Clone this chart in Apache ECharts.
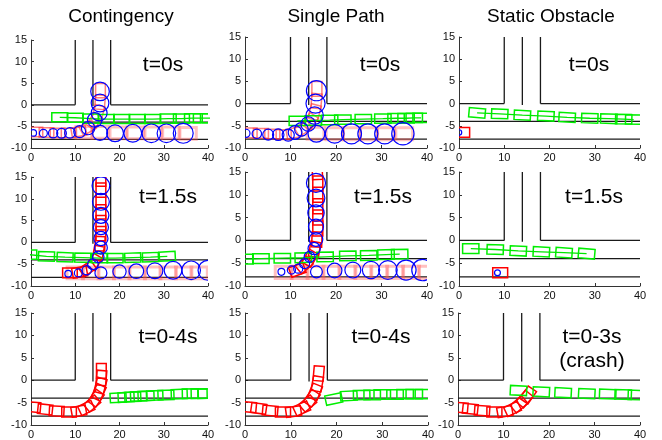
<!DOCTYPE html>
<html><head><meta charset="utf-8">
<script src="https://cdn.jsdelivr.net/npm/echarts@6/dist/echarts.min.js"></script>
<style>html,body{margin:0;padding:0;background:#fff}#c{width:662px;height:440px}</style>
</head><body><div id="c"></div>
<script>
// ---------------- DATA ----------------
const columnTitles = ['Contingency', 'Single Path', 'Static Obstacle'];
const timeLabels = [
  ['t=0s', 't=0s', 't=0s'],
  ['t=1.5s', 't=1.5s', 't=1.5s'],
  ['t=0-4s', 't=0-4s', 't=0-3s\n(crash)']
];
const xRange = [0, 40], xStep = 10;
const yRange = [-10, 15], yStep = 5;
// road edges: [x1, y1, x2, y2]
const roadSegments = [[0,0,10,0],[10,0,10,15],[18,0,40,0],[18,0,18,15],[14,-0.3,14,15],[0,-4,40,-4],[0,-8,40,-8]];

// poses: [x, y, headingDeg]; circles: [x, y, radius]
// Row 1 (t=0)
const contT0Red   = [[1,-6.3,0],[3.5,-6.4,0],[6,-6.5,0],[8.5,-6.5,0],[10.8,-6.2,10],[12.8,-5.3,30],[14.3,-3.8,55],[15.2,-1.8,75],[15.6,0.6,85],[15.7,3.3,90]];
const contT0Pink  = [[12,-6.4,0],[15.6,-6.4,0],[19.7,-6.5,0],[23.6,-6.5,0],[27.6,-6.5,0],[31.6,-6.5,0],[35.5,-6.6,0]];
const contT0Blue  = [[0.5,-6.5,0.75],[2.8,-6.6,0.9],[5,-6.6,1.05],[6.9,-6.6,1.1],[8.8,-6.5,1.2],[11,-6.2,1.35],[12.9,-5.4,1.5],[14.4,-3.5,1.65],[15.4,-1.9,1.8],[15.6,0.4,2],[15.6,3.1,2.1],[15.6,-6.5,1.7],[19,-6.6,1.9],[23,-6.6,2.0],[27.2,-6.6,2.1],[30.6,-6.6,2.1],[34.4,-6.6,2.25]];
const contT0Green = [[6.5,-2.9,0],[10,-3,0],[13.5,-3.2,0],[17,-3.3,0],[20.5,-3.3,0],[24,-3.3,0],[27.5,-3.3,0],[31,-3.2,0],[34,-3.2,0],[36.5,-3.1,0],[38.5,-3.1,0],[40.5,-3.1,0]];

const singT0Red   = [[1,-6.6,0],[3.5,-6.7,0],[6,-6.9,0],[8.5,-7,0],[10.8,-6.6,10],[12.8,-5.6,30],[14.3,-4.0,55],[15.3,-1.9,75],[15.7,0.6,85],[15.8,3.3,90]];
const singT0Pink  = [[15.5,-6.7,0],[19.7,-6.8,0],[23.5,-6.8,0],[27.2,-6.8,0],[31,-6.8,0],[35,-6.8,0]];
const singT0Blue  = [[0.2,-6.7,0.9],[2.6,-6.8,1.04],[5.1,-7,1.2],[7.3,-7,1.26],[9.5,-7.1,1.33],[11,-6.5,1.5],[12.4,-5.8,1.5],[13.9,-4.6,1.6],[15.3,-2.7,1.9],[15.5,0,2.1],[15.7,2.9,2.2],[15.7,-6.8,1.85],[19.7,-6.8,2.05],[23.4,-6.8,2.2],[27,-6.8,2.2],[30.7,-6.8,2.2],[34.7,-6.8,2.45]];
const singT0Green = [[11.5,-3.9,0],[15,-3.8,0],[18.6,-3.7,0],[21.5,-3.6,0],[26,-3.5,0],[30.3,-3.4,0],[33.2,-3.3,0],[35.4,-3.3,0],[37.2,-3.2,0],[38.7,-3.2,0]];

const statT0Red   = [[0.7,-6.5,0]];
const statT0Blue  = [[0,-6.5,0.6]];
const statT0Green = [[4,-2.1,-5],[9,-2.3,-2],[14,-2.6,-3],[19.2,-2.8,-3],[23.9,-3.1,-3],[28.9,-3.3,-2],[33.1,-3.4,-2],[36.4,-3.5,-1],[38.6,-3.6,-1]];

// Row 2 (t=1.5s)
const contT15Red   = [[8.8,-7,0],[11,-6.8,10],[12.8,-6,35],[14.3,-4.5,60],[15.2,-2.5,80],[15.6,-0.3,88],[15.8,2,90],[15.8,4.5,90],[15.8,7,90],[15.8,9.5,90],[15.8,12,90],[15.8,14.5,90]];
const contT15Pink  = [[10,-7,0],[13.5,-7,0],[17,-7,0],[20.5,-7,0],[24,-7,0],[27.5,-7,0],[31,-7,0],[34.5,-7,0],[38,-7,0]];
const contT15Blue  = [[8.4,-7.2,0.75],[10.7,-7,0.9],[12.6,-6.4,1.05],[14,-5,1.2],[15.2,-3.3,1.3],[15.8,-1.2,1.45],[15.8,0.9,1.6],[15.8,3.5,1.7],[15.8,6.2,1.8],[15.8,9.3,1.9],[15.8,13,2.0],[15.8,-7,1.35],[20,-6.7,1.5],[23.8,-6.6,1.65],[28,-6.5,1.8],[32.1,-6.4,2.0],[36.2,-6.4,2.1],[40,-6.4,2.25]];
const contT15Green = [[-0.5,-2.8,0],[3.5,-3.2,-2],[7.7,-3.4,-2],[11.7,-3.5,-1],[15.5,-3.6,0],[19,-3.6,0],[23,-3.5,2],[27,-3.4,2],[30.8,-3.2,3]];

const singT15Red   = [[11.5,-6.5,20],[13,-5.4,40],[14.3,-3.9,60],[15.3,-2,80],[15.8,0.2,88],[16,2.6,90],[16,5,90],[16,7.5,90],[16,10,90],[16,12.5,90],[15.9,15,92]];
const singT15Pink  = [[8.5,-7,0],[12,-7,0],[15.5,-7,0],[19,-7,0],[22.5,-7,0],[26,-7,0],[29.5,-7,0],[33,-7,0],[36.5,-7,0],[40,-7,0]];
const singT15Blue  = [[8,-6.9,0.75],[10.2,-6.5,0.9],[11.7,-6.2,1.0],[13.1,-5.1,1.1],[14.2,-3.6,1.2],[15.2,-1.8,1.35],[15.6,0.2,1.5],[15.6,3,1.65],[15.6,6,1.8],[15.6,9.3,1.95],[15.6,12.6,2.1],[15.7,-6.9,1.3],[19.7,-6.6,1.6],[23.7,-6.5,1.75],[27.7,-6.5,1.9],[31.4,-6.5,2.05],[35.4,-6.5,2.2],[39,-6.5,2.35]];
const singT15Green = [[0,-4.1,0],[3.5,-4,0],[8.2,-3.9,0],[12.8,-3.8,1],[17.6,-3.6,1],[22.6,-3.4,1],[27.2,-3.3,1],[31,-3.1,1],[34,-3.0,1]];

const statT15Red   = [[9.1,-7.1,0]];
const statT15Blue  = [[8.5,-7.1,0.65]];
const statT15Green = [[2.6,-1.8,0],[8,-2.0,-2],[13.1,-2.3,-3],[18.2,-2.5,-3],[23.2,-2.7,-4],[28.2,-2.9,-5]];

// Row 3 (whole run)
const contRunRed   = [[0.5,-6,-5],[3.2,-6.5,-6],[5.8,-6.9,-3],[8.6,-7.1,0],[10.8,-6.9,10],[12.5,-6.2,25],[13.8,-5.2,40],[14.7,-4,55],[15.3,-2.7,65],[15.7,-1.2,75],[15.9,0.5,85],[15.9,2.1,90]];
const contRunGreen = [[19.7,-3.9,3],[21.5,-3.8,3],[23,-3.7,2],[24.3,-3.6,2],[26,-3.5,2],[28,-3.4,2],[30.5,-3.3,2],[33.5,-3.1,2],[36,-3.0,1],[38,-3.0,1],[39.5,-3.0,1]];

const singRunRed   = [[0.8,-6,-5],[3,-6.3,-8],[5.5,-6.8,-5],[8.3,-7.1,0],[10.6,-7,8],[12.4,-6.3,25],[13.7,-5.2,40],[14.6,-4,55],[15.3,-2.6,68],[15.8,-0.8,80],[16.1,1.5,85]];
const singRunGreen = [[19.4,-4.2,12],[22.7,-3.5,3],[25.5,-3.3,1],[27.8,-3.3,0],[30,-3.2,0],[32.8,-3.2,0],[35,-3.1,0],[37,-3.1,0],[39,-3.1,0]];

const statRunRed   = [[0.5,-6.1,-5],[2.7,-6.4,-6],[5.3,-6.8,-4],[8,-7.1,0],[10.3,-7,10],[12,-6.4,25],[13.4,-5.4,40],[14.6,-4.2,50],[15.4,-3.3,55]];
const statRunGreen = [[13.3,-2.3,-3],[18.3,-2.6,-3],[23.1,-2.8,-3],[28.3,-3,-3],[32.9,-3.1,-2],[36.3,-3.2,-2],[39.2,-3.3,-2]];

// ---------------- LAYOUT / STYLE ----------------
const EGO_L = 3.3, EGO_W = 2.2, OTHER_L = 3.6, OTHER_W = 2.1;
const gridBoxes = [
  [{l:31,t:40,w:177,h:108},{l:245,t:37,w:182,h:111},{l:459,t:37,w:181,h:111}],
  [{l:31,t:177,w:177,h:109},{l:245,t:172,w:182,h:114},{l:459,t:172,w:181,h:114}],
  [{l:31,t:313,w:177,h:112},{l:245,t:313,w:183,h:112},{l:458,t:313,w:182,h:112}]
];
const panels = [
  [{red:contT0Red,pink:contT0Pink,blue:contT0Blue,green:contT0Green,redC:'rgba(255,40,40,0.6)',greenLine:true},
   {red:singT0Red,pink:singT0Pink,blue:singT0Blue,green:singT0Green,redC:'rgba(255,40,40,0.6)',greenLine:true},
   {red:statT0Red,pink:[],blue:statT0Blue,green:statT0Green,redC:'#ff0000',greenLine:true}],
  [{red:contT15Red,pink:contT15Pink,blue:contT15Blue,green:contT15Green,redC:'#ff0000',greenLine:true},
   {red:singT15Red,pink:singT15Pink,blue:singT15Blue,green:singT15Green,redC:'#ff0000',greenLine:true},
   {red:statT15Red,pink:[],blue:statT15Blue,green:statT15Green,redC:'#ff0000',greenLine:true}],
  [{red:contRunRed,pink:[],blue:[],green:contRunGreen,redC:'#ff0000',greenLine:false},
   {red:singRunRed,pink:[],blue:[],green:singRunGreen,redC:'#ff0000',greenLine:false},
   {red:statRunRed,pink:[],blue:[],green:statRunGreen,redC:'#ff0000',greenLine:false}]
];
const labelPos = [[163,65],[380,65],[589,65],[168,197],[383,197],[594,197],[168,337],[381,337],[592,349]];
const titlePos = [121,336,551];
const FONT = '"Liberation Sans", Arial, sans-serif';

function rectRender(L, Wd, color, lw) {
  return function (params, api) {
    const x = api.value(0), y = api.value(1), h = api.value(2) * Math.PI / 180;
    const c = Math.cos(h), s = Math.sin(h);
    const pts = [[L/2,Wd/2],[-L/2,Wd/2],[-L/2,-Wd/2],[L/2,-Wd/2]].map(function (p) {
      return api.coord([x + p[0]*c - p[1]*s, y + p[0]*s + p[1]*c]);
    });
    return {type:'polygon', shape:{points:pts}, style:{fill:null, stroke:color, lineWidth:lw}};
  };
}
function circleRender(color) {
  return function (params, api) {
    const p = api.coord([api.value(0), api.value(1)]);
    const r = api.size([api.value(2), 0])[0];
    return {type:'circle', shape:{cx:p[0], cy:p[1], r:r}, style:{fill:null, stroke:color, lineWidth:1.2}};
  };
}
function roadRender(params, api) {
  const a = api.coord([api.value(0), api.value(1)]);
  const b = api.coord([api.value(2), api.value(3)]);
  return {type:'line', shape:{x1:a[0],y1:a[1],x2:b[0],y2:b[1]}, style:{stroke:'#1a1a1a', lineWidth:1.3}};
}

const grid = [], xAxis = [], yAxis = [], series = [], graphic = [];
let gi = 0;
for (let r = 0; r < 3; r++) {
  for (let c = 0; c < 3; c++) {
    const b = gridBoxes[r][c], p = panels[r][c];
    grid.push({left:b.l, top:b.t, width:b.w, height:b.h});
    const axisCommon = {
      gridIndex: gi, type:'value',
      axisLine:{show:true, onZero:false, lineStyle:{color:'#333', width:1}},
      axisTick:{show:true, inside:true, length:3, lineStyle:{color:'#333'}},
      splitLine:{show:false},
      axisLabel:{fontSize:11, color:'#111', fontFamily:FONT, margin:4}
    };
    xAxis.push(Object.assign({}, axisCommon, {min:xRange[0], max:xRange[1], interval:xStep}));
    yAxis.push(Object.assign({}, axisCommon, {min:yRange[0], max:yRange[1], interval:yStep}));
    const base = {xAxisIndex:gi, yAxisIndex:gi, silent:true, animation:false};
    series.push(Object.assign({type:'custom', renderItem:roadRender, data:roadSegments, clip:true, z:1}, base));
    if (p.pink.length) series.push(Object.assign({type:'custom', renderItem:rectRender(EGO_L+0.4, EGO_W+0.5, 'rgba(255,90,90,0.38)', 3), data:p.pink, clip:true, z:2}, base));
    series.push(Object.assign({type:'custom', renderItem:rectRender(EGO_L, EGO_W, p.redC, 1.5), data:p.red, clip:true, z:3}, base));
    if (p.greenLine) series.push(Object.assign({type:'line', data:p.green.map(function(d){return [d[0], d[1]];}), showSymbol:false, symbol:'none', lineStyle:{color:'#00e600', width:1.3}, clip:true, z:4}, base));
    series.push(Object.assign({type:'custom', renderItem:rectRender(OTHER_L, OTHER_W, '#00ee00', 1.5), data:p.green, clip:true, z:4}, base));
    if (p.blue.length) series.push(Object.assign({type:'custom', renderItem:circleRender('#0000ff'), data:p.blue, clip:true, z:5}, base));
    const lp = labelPos[gi];
    graphic.push({type:'text', x:lp[0], y:lp[1], style:{text:timeLabels[r][c], fontSize:21, fontFamily:FONT, fill:'#000', align:'center', verticalAlign:'middle', lineHeight:24}});
    gi++;
  }
}
for (let c = 0; c < 3; c++) {
  graphic.push({type:'text', x:titlePos[c], y:17, style:{text:columnTitles[c], fontSize:19, fontFamily:FONT, fill:'#000', align:'center', verticalAlign:'middle'}});
}

const chart = echarts.init(document.getElementById('c'), null, {renderer:'canvas'});
chart.setOption({backgroundColor:'#fff', animation:false, grid, xAxis, yAxis, series, graphic});
</script></body></html>
